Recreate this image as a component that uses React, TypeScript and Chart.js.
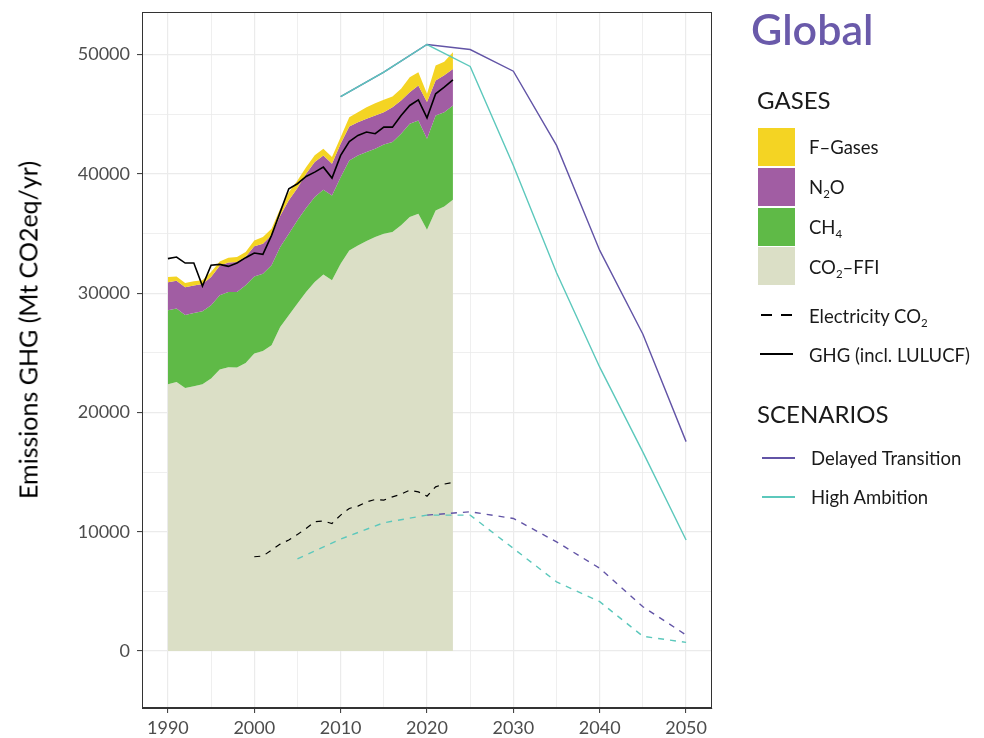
import React, { useEffect, useRef } from "react";
import { Chart, registerables } from "chart.js";

Chart.register(...registerables);

// Historical years (annual inventory)
const histYears = [
  1990, 1991, 1992, 1993, 1994, 1995, 1996, 1997, 1998, 1999,
  2000, 2001, 2002, 2003, 2004, 2005, 2006, 2007, 2008, 2009,
  2010, 2011, 2012, 2013, 2014, 2015, 2016, 2017, 2018, 2019,
  2020, 2021, 2022, 2023,
];

// Gas components, Mt CO2eq/yr
const co2Ffi = [
  22360, 22550, 22050, 22200, 22360, 22840, 23590, 23780, 23760, 24150,
  24930, 25150, 25630, 27160, 28140, 29120, 30090, 30930, 31570, 31070,
  32470, 33580, 34000, 34360, 34700, 34980, 35120, 35680, 36370, 36660,
  35320, 36930, 37270, 37830,
];
const ch4 = [
  6200, 6150, 6120, 6140, 6110, 6140, 6220, 6310, 6330, 6500,
  6470, 6480, 6700, 6700, 6840, 6980, 7050, 7120, 7100, 7120,
  7250, 7540, 7540, 7460, 7400, 7480, 7540, 7680, 7820, 7810,
  7620, 7960, 7900, 7900,
];
const n2o = [
  2350, 2330, 2320, 2300, 2290, 2370, 2480, 2470, 2520, 2400,
  2530, 2510, 2510, 2620, 2800, 2720, 2860, 2950, 2870, 2650,
  2800, 2850, 2790, 2790, 2790, 2710, 2930, 2790, 2650, 2930,
  3070, 2930, 3100, 3060,
];
const fGases = [
  450, 370, 360, 350, 310, 420, 350, 410, 410, 390,
  490, 560, 560, 590, 680, 630, 560, 560, 560, 560,
  550, 780, 840, 980, 1030, 1030, 890, 980, 1260, 1120,
  700, 1260, 1120, 1410,
];

// Total GHG including LULUCF
const ghgLulucf = [
  32890, 33020, 32520, 32520, 30590, 32330, 32410, 32240, 32520, 32970,
  33360, 33250, 34840, 36790, 38750, 39170, 39780, 40140, 40560, 39640,
  41540, 42710, 43220, 43500, 43360, 43910, 43910, 44890, 45730, 46200,
  44690, 46710, 47260, 47880,
];

// Electricity-sector CO2 (historical)
const elecYears = [
  2000, 2001, 2002, 2003, 2004, 2005, 2006, 2007, 2008, 2009,
  2010, 2011, 2012, 2013, 2014, 2015, 2016, 2017, 2018, 2019,
  2020, 2021, 2022, 2023,
];
const elecCo2 = [
  7900, 7960, 8460, 8960, 9300, 9770, 10270, 10830, 10890, 10690,
  11390, 11950, 12140, 12500, 12700, 12650, 12920, 13150, 13480, 13340,
  12980, 13760, 13990, 14130,
];

// Scenario pathways
const scenarioYears = [2010, 2015, 2020, 2025, 2030, 2035, 2040, 2045, 2050];
const delayedGhg = [46480, 48520, 50840, 50420, 48600, 42380, 33580, 26550, 17550];
const highGhg = [46480, 48520, 50840, 49000, 40700, 31700, 23790, 16670, 9300];

const highElecYears = [2005, 2010, 2015, 2020, 2025, 2030, 2035, 2040, 2045, 2050];
const highElec = [7730, 9380, 10750, 11390, 11390, 8600, 5800, 4130, 1230, 720];
const delayedElecYears = [2020, 2025, 2030, 2035, 2040, 2045, 2050];
const delayedElec = [11390, 11670, 11110, 9150, 6930, 3710, 1340];

const xTicks = [1990, 1995, 2000, 2005, 2010, 2015, 2020, 2025, 2030, 2035, 2040, 2045, 2050];
const yTicks = [0, 5000, 10000, 15000, 20000, 25000, 30000, 35000, 40000, 45000, 50000];

const COLORS = {
  co2: "#dbdfc6",
  ch4: "#5fba47",
  n2o: "#a15da3",
  fgas: "#f4d423",
  delayed: "#6254a6",
  high: "#5cc8bc",
  title: "#6a5aaa",
};

const FONT = "Lato, 'Noto Sans', sans-serif";

const pts = (xs: number[], ys: number[]) => xs.map((x, i) => ({ x, y: ys[i] }));

const cumulative = (...layers: number[][]) =>
  layers[0].map((_, i) => layers.reduce((s, l) => s + l[i], 0));

const panelBorder = {
  id: "panelBorder",
  afterDraw(chart: any) {
    const { ctx, chartArea } = chart;
    ctx.save();
    ctx.strokeStyle = "#333333";
    ctx.lineWidth = 1;
    ctx.strokeRect(
      Math.round(chartArea.left) + 0.5,
      Math.round(chartArea.top) + 0.5,
      Math.round(chartArea.right - chartArea.left) - 1,
      Math.round(chartArea.bottom - chartArea.top) - 1
    );
    ctx.restore();
  },
};

function GhgChart() {
  const canvasRef = useRef<HTMLCanvasElement | null>(null);

  useEffect(() => {
    if (!canvasRef.current) return;

    const layer1 = co2Ffi;
    const layer2 = cumulative(co2Ffi, ch4);
    const layer3 = cumulative(co2Ffi, ch4, n2o);
    const layer4 = cumulative(co2Ffi, ch4, n2o, fGases);

    const area = (data: number[], color: string, fill: any, order: number) => ({
      type: "line" as const,
      data: pts(histYears, data),
      backgroundColor: color,
      borderColor: "rgba(0,0,0,0)",
      borderWidth: 0,
      pointRadius: 0,
      fill,
      order,
    });

    const chart = new Chart(canvasRef.current, {
      type: "line",
      data: {
        datasets: [
          area(layer1, COLORS.co2, "origin", 20),
          area(layer2, COLORS.ch4, "-1", 19),
          area(layer3, COLORS.n2o, "-1", 18),
          area(layer4, COLORS.fgas, "-1", 17),
          {
            data: pts(histYears, ghgLulucf),
            borderColor: "#000000",
            borderWidth: 1.6,
            pointRadius: 0,
            fill: false,
            order: 5,
          },
          {
            data: pts(elecYears, elecCo2),
            borderColor: "#000000",
            borderWidth: 1.2,
            borderDash: [6, 6],
            pointRadius: 0,
            fill: false,
            order: 5,
          },
          {
            data: pts(scenarioYears, delayedGhg),
            borderColor: COLORS.delayed,
            borderWidth: 1.4,
            pointRadius: 0,
            fill: false,
            order: 4,
          },
          {
            data: pts(scenarioYears, highGhg),
            borderColor: COLORS.high,
            borderWidth: 1.4,
            pointRadius: 0,
            fill: false,
            order: 3,
          },
          {
            data: pts(delayedElecYears, delayedElec),
            borderColor: COLORS.delayed,
            borderWidth: 1.4,
            borderDash: [6, 6],
            pointRadius: 0,
            fill: false,
            order: 2,
          },
          {
            data: pts(highElecYears, highElec),
            borderColor: COLORS.high,
            borderWidth: 1.4,
            borderDash: [6, 6],
            pointRadius: 0,
            fill: false,
            order: 1,
          },
        ],
      },
      options: {
        responsive: false,
        animation: false,
        events: [],
        layout: { padding: { top: 12, right: 272, left: 0, bottom: 0 } },
        plugins: {
          legend: { display: false },
          tooltip: { enabled: false },
          title: { display: false },
        },
        scales: {
          x: {
            type: "linear",
            min: 1987,
            max: 2053,
            afterBuildTicks: (scale: any) => {
              scale.ticks = xTicks.map((v) => ({ value: v }));
            },
            afterFit: (scale: any) => {
              scale.height = 30;
              scale.paddingLeft = 0;
              scale.paddingRight = 0;
            },
            ticks: {
              autoSkip: false,
              maxRotation: 0,
              padding: 4,
              color: "#4d4d4d",
              font: { family: FONT, size: 18 },
              callback: (v: any) => (Number(v) % 10 === 0 ? String(v) : ""),
            },
            grid: {
              color: "#ebebeb",
              lineWidth: (ctx: any) => (ctx.tick && ctx.tick.value % 10 === 0 ? 1.2 : 0.8),
              drawTicks: true,
              tickLength: 5,
              tickWidth: 1,
              tickColor: (ctx: any) =>
                ctx.tick && ctx.tick.value % 10 === 0 ? "#333333" : "rgba(0,0,0,0)",
            },
            border: { display: true, color: "#333333", width: 1 },
          },
          y: {
            type: "linear",
            min: -4780,
            max: 53565,
            afterBuildTicks: (scale: any) => {
              scale.ticks = yTicks.map((v) => ({ value: v }));
            },
            afterFit: (scale: any) => {
              scale.width = 142;
              scale.paddingTop = 0;
              scale.paddingBottom = 0;
            },
            ticks: {
              autoSkip: false,
              padding: 7,
              color: "#4d4d4d",
              font: { family: FONT, size: 18 },
              callback: (v: any) => (Number(v) % 10000 === 0 ? String(v) : ""),
            },
            grid: {
              color: "#ebebeb",
              lineWidth: (ctx: any) => (ctx.tick && ctx.tick.value % 10000 === 0 ? 1.2 : 0.8),
              drawTicks: true,
              tickLength: 5,
              tickWidth: 1,
              tickColor: (ctx: any) =>
                ctx.tick && ctx.tick.value % 10000 === 0 ? "#333333" : "rgba(0,0,0,0)",
            },
            border: { display: true, color: "#333333", width: 1 },
          },
        },
      },
      plugins: [panelBorder],
    });

    return () => chart.destroy();
  }, []);

  return <canvas ref={canvasRef} width={984} height={738} style={{ display: "block" }} />;
}

const textBase: React.CSSProperties = {
  position: "absolute",
  fontFamily: FONT,
  lineHeight: 1,
  whiteSpace: "nowrap",
  transform: "translateY(-50%)",
  color: "#1a1a1a",
};

const subStyle: React.CSSProperties = {
  fontSize: "0.62em",
  verticalAlign: "-0.35em",
  lineHeight: 0,
};

function Swatch({ top, color }: { top: number; color: string }) {
  return (
    <div
      style={{
        position: "absolute",
        left: 758,
        top,
        width: 37,
        height: 38,
        background: color,
      }}
    />
  );
}

function Label({ y, children, size = 18.5, x = 809 }: { y: number; children: React.ReactNode; size?: number; x?: number }) {
  return <div style={{ ...textBase, left: x, top: y, fontSize: size }}>{children}</div>;
}

function LineKey({ y, color, width, dashed, x1, x2 }: { y: number; color: string; width: number; dashed?: boolean; x1: number; x2: number }) {
  if (dashed) {
    return (
      <>
        <div style={{ position: "absolute", left: x1, top: y - width / 2, width: 11, height: width, background: color }} />
        <div style={{ position: "absolute", left: x1 + 20, top: y - width / 2, width: 11, height: width, background: color }} />
      </>
    );
  }
  return <div style={{ position: "absolute", left: x1, top: y - width / 2, width: x2 - x1, height: width, background: color }} />;
}

export default function App() {
  return (
    <div style={{ position: "absolute", left: 0, top: 0, width: 984, height: 738, background: "#ffffff", overflow: "hidden" }}>
      <GhgChart />

      <div
        style={{
          position: "absolute",
          left: 28,
          top: 330,
          fontFamily: FONT,
          fontSize: 25,
          lineHeight: 1,
          whiteSpace: "nowrap",
          color: "#000000",
          transform: "translate(-50%, -50%) rotate(-90deg)",
        }}
      >
        Emissions GHG (Mt CO2eq/yr)
      </div>

      <Label y={28} size={43} x={751}>
        <span style={{ color: COLORS.title, fontWeight: 600 }}>Global</span>
      </Label>

      <Label y={100} size={24} x={757}>GASES</Label>
      <Swatch top={128} color={COLORS.fgas} />
      <Swatch top={168} color={COLORS.n2o} />
      <Swatch top={208} color={COLORS.ch4} />
      <Swatch top={247} color={COLORS.co2} />
      <Label y={147}>F–Gases</Label>
      <Label y={187}>
        N<sub style={subStyle}>2</sub>O
      </Label>
      <Label y={227}>
        CH<sub style={subStyle}>4</sub>
      </Label>
      <Label y={267}>
        CO<sub style={subStyle}>2</sub>–FFI
      </Label>

      <LineKey y={315} color="#000000" width={2.4} dashed x1={761} x2={792} />
      <Label y={316}>
        Electricity CO<sub style={subStyle}>2</sub>
      </Label>
      <LineKey y={354} color="#000000" width={2.8} x1={760} x2={793} />
      <Label y={355}>GHG (incl. LULUCF)</Label>

      <Label y={414} size={24} x={757}>SCENARIOS</Label>
      <LineKey y={458} color={COLORS.delayed} width={1.8} x1={762} x2={795} />
      <Label y={458} x={811}>Delayed Transition</Label>
      <LineKey y={497} color={COLORS.high} width={1.8} x1={762} x2={795} />
      <Label y={497} x={811}>High Ambition</Label>
    </div>
  );
}
